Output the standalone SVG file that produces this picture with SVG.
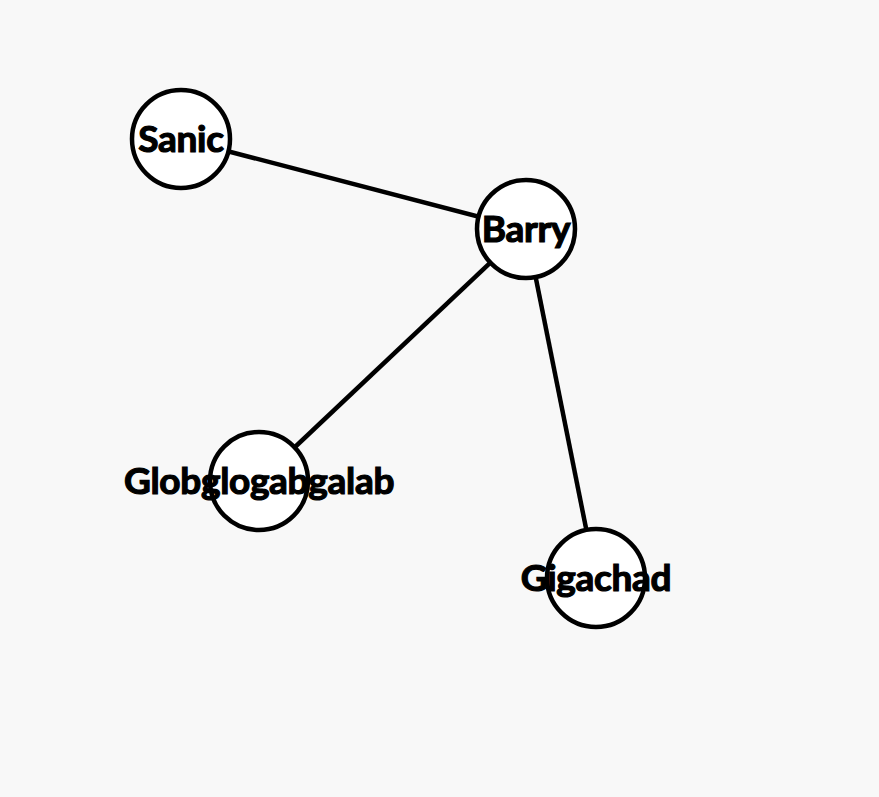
<svg xmlns="http://www.w3.org/2000/svg" width="879" height="797" viewBox="0 0 879 797">
<style>
.bg{fill:#f8f8f8}
.node circle{fill:#fff;stroke:#000;stroke-width:4.5}
.node text{font-family:Lato,"Liberation Sans",sans-serif;font-weight:bold;font-size:37px;fill:#000;stroke:#000;stroke-width:1.2;text-anchor:middle;letter-spacing:-0.3px}
.edges line{stroke:#000;stroke-width:4.5}
</style>
<rect class="bg" x="0" y="0" width="879" height="797"/>
<g id="edges" class="edges">
<line x1="181" y1="139" x2="526" y2="229"/>
<line x1="526" y1="229" x2="259" y2="481"/>
<line x1="526" y1="229" x2="596" y2="578"/>
</g>
<g id="node-sanic" class="node"><circle cx="181" cy="139" r="49"/><text x="181" y="152">Sanic</text></g>
<g id="node-barry" class="node"><circle cx="526" cy="229" r="49"/><text x="526" y="242">Barry</text></g>
<g id="node-globglogabgalab" class="node"><circle cx="259" cy="481" r="49"/><text x="259" y="494">Globglogabgalab</text></g>
<g id="node-gigachad" class="node"><circle cx="596" cy="578" r="49"/><text x="596" y="591">Gigachad</text></g>
</svg>
